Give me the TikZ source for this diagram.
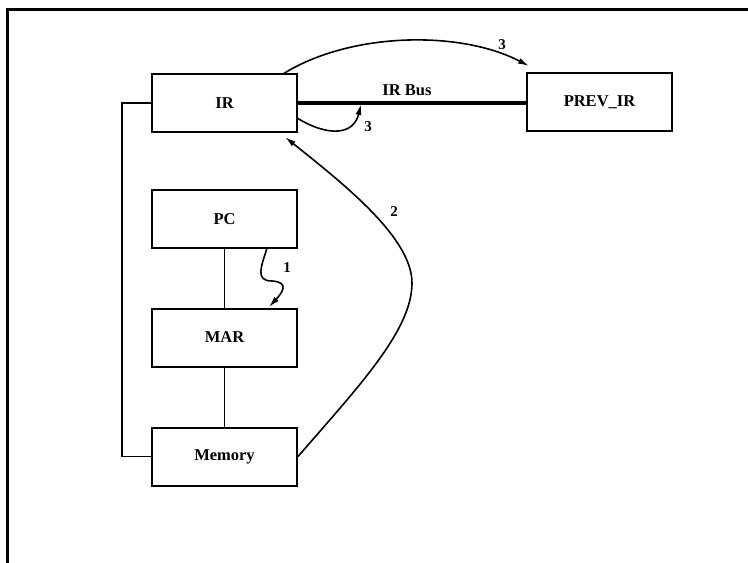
\documentclass[tikz,border=0pt]{standalone}
\usepackage{fontspec}
\setmainfont{Liberation Serif}
\usetikzlibrary{arrows.meta}
\begin{document}
\begin{tikzpicture}[x=1pt,y=-1pt,
  box/.style={draw,line width=2pt,minimum width=145pt,minimum height=58pt,inner sep=0pt,font=\fontsize{16.5}{20}\selectfont\bfseries},
  conn/.style={line width=1.6pt},
  arr/.style={line width=1.6pt,-{Latex[length=11pt,width=6pt]}},
  lbl/.style={font=\fontsize{15}{17}\selectfont\bfseries,inner sep=0pt}]
\useasboundingbox (0,0) rectangle (748,563);
\draw[line width=3pt] (7,563) -- (7,9) -- (748,9);
\node[box] (ir) at (224.5,103) {IR};
\node[box] (prev) at (599.5,102) {PREV\_IR};
\node[box] (pc) at (224.5,219) {PC};
\node[box] (mar) at (224.5,337.5) {MAR};
\node[box] (mem) at (224.5,456.5) {Memory};
\coordinate (lc) at (122,103);
\draw[conn] (ir.west) -- (lc) |- (mem.west);
\draw[conn] (pc.south) -- (mar.north);
\draw[conn] (mar.south) -- (mem.north);
\draw[line width=4.5pt] (ir.east |- 0,103) -- (prev.west |- 0,103);
\node[lbl,font=\fontsize{16.5}{18}\selectfont\bfseries] (bus) at (407,90) {IR Bus};
\coordinate (a1) at (267,248);
\coordinate (b1) at (269,307);
\draw[arr] (a1) .. controls (262,265) and (254,281) .. (272,281) .. controls (290,282) and (282,293) .. (b1);
\node[lbl] (l1) at (287,268) {1};
\coordinate (b2) at (285,137);
\draw[arr] (mem.east) .. controls (360,385) and (412,330) .. (412,283) .. controls (412,238) and (345,185) .. (b2);
\node[lbl] (l2) at (394,212) {2};
\coordinate (a3) at (283,74);
\coordinate (b3) at (529,66);
\draw[arr] (a3) .. controls (350,32) and (460,30) .. (b3);
\node[lbl] (l3) at (502,45) {3};
\coordinate (c3) at (297,118);
\coordinate (d3) at (361,104);
\draw[arr] (c3) .. controls (330,138) and (354,134) .. (d3);
\node[lbl] (l4) at (368,127) {3};
\end{tikzpicture}
\end{document}
